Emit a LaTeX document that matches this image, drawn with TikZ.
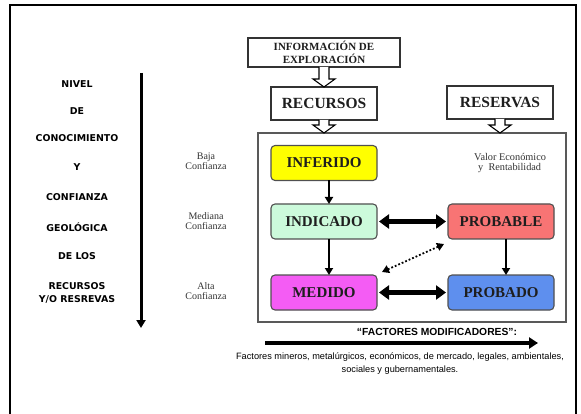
\documentclass[tikz,border=0pt]{standalone}
\usepackage{fontspec}
\setmainfont{Liberation Serif}
\newfontfamily\arialf{Liberation Sans}
\newfontfamily\heavyf{DejaVu Sans}
\usetikzlibrary{arrows.meta,calc}
\definecolor{cyel}{HTML}{FFFF00}
\definecolor{cgrn}{HTML}{CCFADB}
\definecolor{cmag}{HTML}{F45CF4}
\definecolor{cred}{HTML}{F87474}
\definecolor{cblu}{HTML}{5E8FEE}
\definecolor{cedge}{HTML}{505050}
\definecolor{ctxt}{HTML}{1E1E1E}
\newcommand\hollowarr[2]{%
  \draw[line width=1.1pt,fill=white,line join=miter]
    ([xshift=-5pt]#1) -- ([xshift=-5pt,yshift=8pt]#2) -- ([xshift=-11pt,yshift=8pt]#2)
    -- (#2) -- ([xshift=11pt,yshift=8pt]#2) -- ([xshift=5pt,yshift=8pt]#2) -- ([xshift=5pt]#1);}
\begin{document}
\begin{tikzpicture}[x=1pt,y=-1pt,
  plainbox/.style={draw=black!80,line width=1.1pt,fill=white,outer sep=0pt,inner sep=1pt,
     font=\bfseries,text=ctxt,align=center},
  catbox/.style={draw=cedge,line width=1.1pt,rounded corners=4pt,outer sep=0pt,
     minimum width=106pt,minimum height=35pt,font=\bfseries\fontsize{15}{17}\selectfont,text=ctxt},
  lefttxt/.style={font=\heavyf\bfseries\fontsize{9.4}{11}\selectfont,align=center,inner sep=0pt},
  conftxt/.style={font=\fontsize{10}{11}\selectfont,align=center,text=black!80,inner sep=0pt},
  thinarr/.style={line width=1.8pt,-{Triangle[width=8pt,length=7pt]}},
  fatarr/.style={line width=4.5pt,{Triangle[width=14pt,length=10pt]}-{Triangle[width=14pt,length=10pt]}},
  dotarr/.style={line width=1.8pt,dotted,{Triangle[width=8pt,length=7pt]}-{Triangle[width=8pt,length=7pt]}}]
\useasboundingbox (0,0) rectangle (581,414);
\fill[white] (0,0) rectangle (581,414);
% outer frame
\draw[line width=2.2pt] (10,416) -- (10,5) -- (576,5) -- (576,416);

% top boxes
\node[plainbox,minimum width=152pt,minimum height=29pt,font=\bfseries\fontsize{11}{12.5}\selectfont] (info) at (324,52.5) {INFORMACIÓN DE\\EXPLORACIÓN};
\node[plainbox,minimum width=106pt,minimum height=33pt,font=\bfseries\fontsize{15.5}{17}\selectfont] (recursos) at (324,103.5) {RECURSOS};
\node[plainbox,minimum width=106pt,minimum height=33pt,font=\bfseries\fontsize{15.5}{17}\selectfont] (reservas) at (500,102.5) {RESERVAS};

% container
\node[draw=black!65,line width=1.1pt,minimum width=308pt,minimum height=189pt,outer sep=0pt] (cont) at (412,227.5) {};
\coordinate (c1) at (recursos.south |- cont.north);
\coordinate (c2) at (reservas.south |- cont.north);

\hollowarr{info.south}{recursos.north}
\hollowarr{recursos.south}{c1}
\hollowarr{reservas.south}{c2}

% category boxes
\node[catbox,fill=cyel] (inf) at (324,163) {INFERIDO};
\node[catbox,fill=cgrn] (ind) at (324,221.5) {INDICADO};
\node[catbox,fill=cmag] (med) at (324,292.5) {MEDIDO};
\node[catbox,fill=cred] (prob) at (501,221.5) {PROBABLE};
\node[catbox,fill=cblu] (proba) at (501,292.5) {PROBADO};

\node[conftxt,font=\fontsize{10.3}{11.5}\selectfont,align=left,anchor=west] (valor) at (474,163) {Valor Económico\\[-1pt]\hspace*{4pt}y\ \ Rentabilidad};

% connectors
\draw[thinarr] ([xshift=5pt]inf.south) -- ([xshift=5pt]ind.north);
\draw[thinarr] ([xshift=5pt]ind.south) -- ([xshift=5pt]med.north);
\draw[thinarr] ([xshift=5pt]prob.south) -- ([xshift=5pt]proba.north);
\draw[fatarr] ([xshift=2pt]ind.east) -- ([xshift=-2pt]prob.west);
\draw[fatarr] ([xshift=2pt]med.east) -- ([xshift=-2pt]proba.west);
\draw[dotarr] ([xshift=-4pt,yshift=-5pt]prob.south west) -- ([xshift=5pt,yshift=3pt]med.north east);

% left vertical arrow and labels
\coordinate (la1) at (141,73);
\coordinate (la2) at (141,328);
\draw[line width=3pt,-{Triangle[width=9pt,length=8pt]}] (la1) -- (la2);
\node[lefttxt] (l1) at (77,84) {NIVEL};
\node[lefttxt] (l2) at (77,111) {DE};
\node[lefttxt] (l3) at (77,138) {CONOCIMIENTO};
\node[lefttxt] (l4) at (77,167) {Y};
\node[lefttxt] (l5) at (77,197) {CONFIANZA};
\node[lefttxt] (l6) at (77,227) {GEOLÓGICA};
\node[lefttxt] (l7) at (77,256) {DE LOS};
\node[lefttxt] (l8) at (77,292.5) {RECURSOS\\[2pt]Y/O RESREVAS};

\node[conftxt] (baja) at (206,161) {Baja\\[-1pt]Confianza};
\node[conftxt] (mediana) at (206,221) {Mediana\\[-1pt]Confianza};
\node[conftxt] (alta) at (206,291) {Alta\\[-1pt]Confianza};

% modifying factors
\node[font=\arialf\bfseries\fontsize{10.3}{11}\selectfont,inner sep=0pt] (fm) at (437,332) {“FACTORES MODIFICADORES”:};
\coordinate (fa1) at (265,343);
\coordinate (fa2) at (538,343);
\draw[line width=3.5pt,-{Triangle[width=11pt,length=9pt]}] (fa1) -- (fa2);
\node[font=\arialf\fontsize{9.2}{13}\selectfont,align=center,inner sep=0pt] (fmt) at (400,363.5)
  {Factores mineros, metalúrgicos, económicos, de mercado, legales, ambientales,\\sociales y gubernamentales.};
\end{tikzpicture}
\end{document}
